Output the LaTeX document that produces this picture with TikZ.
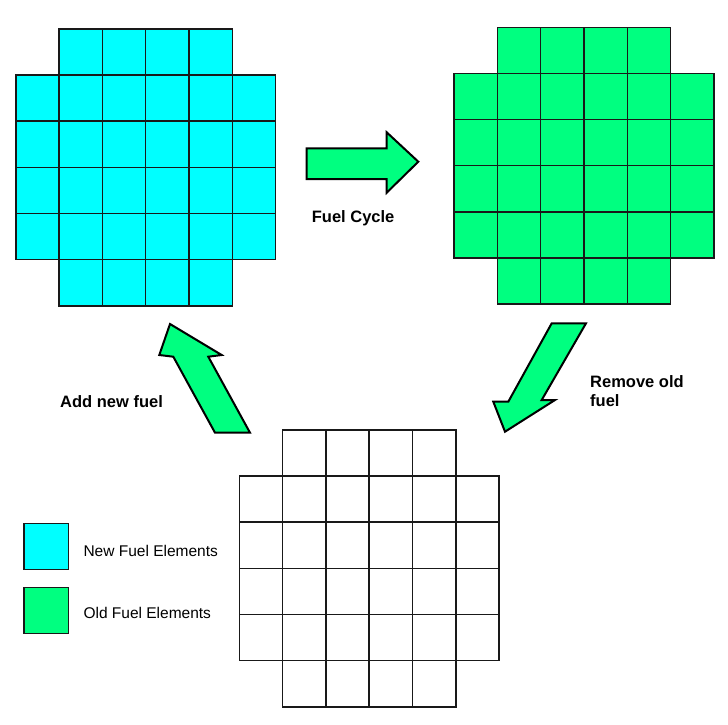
\documentclass[tikz,border=0pt]{standalone}
\usepackage{fontspec}
\setmainfont{Liberation Sans}
\definecolor{newfuel}{RGB}{0,255,255}
\definecolor{oldfuel}{RGB}{0,255,128}
\newcommand\fuelgrid[3]{%
  \foreach \r/\a/\b in {0/1/4,1/0/5,2/0/5,3/0/5,4/0/5,5/1/4}{
    \foreach \c in {\a,...,\b}{
      \draw[cell,fill=#3] ({#1+\c*43.33},{#2+\r*46.12}) rectangle +(43.33,46.12);
    }
  }%
}
\tikzset{
  cell/.style={draw=black!90,line width=1.6pt},
  bigarrow/.style={draw=black,fill=oldfuel,line width=2pt,line join=miter},
  boldlabel/.style={font=\fontsize{16.5}{19.5}\selectfont\bfseries,inner sep=0pt,align=left},
  legendlabel/.style={font=\fontsize{15.5}{18}\selectfont,inner sep=0pt},
  legendbox/.style={draw=black!90,line width=1.6pt}
}
\begin{document}
\begin{tikzpicture}[x=1pt,y=-1pt]
\useasboundingbox (0,0) rectangle (728,724);
% grids
\fuelgrid{15.7}{29}{newfuel}
\fuelgrid{454}{27.3}{oldfuel}
\fuelgrid{239.3}{430}{white}
% arrows
\draw[bigarrow] (306.7,148.3) -- (386.7,148.3) -- (386.7,132.3) -- (418.3,161.7)
  -- (386.7,192.7) -- (386.7,179) -- (306.7,179) -- cycle;
\draw[bigarrow] (170,324) -- (159.3,355) -- (173.3,356.7) -- (215,432.7)
  -- (250,432.7) -- (208.3,356.7) -- (221.7,355) -- cycle;
\draw[bigarrow] (551.7,323.3) -- (586,323.3) -- (541.7,400) -- (555,400)
  -- (505,431.7) -- (493.3,401.7) -- (508.3,401.7) -- cycle;
% labels
\node[boldlabel,anchor=base west] (cycle) at (311.7,222) {Fuel Cycle};
\node[boldlabel,anchor=base west] (add) at (60,407.3) {Add new fuel};
\node[boldlabel,anchor=base west] (remove) at (590,406.7) {Remove old\\fuel};
% legend
\draw[legendbox,fill=newfuel] (24,523.3) rectangle (68.3,569.3);
\draw[legendbox,fill=oldfuel] (24,587.3) rectangle (68.3,633.3);
\node[legendlabel,anchor=base west] (newlab) at (83.3,556.7) {New Fuel Elements};
\node[legendlabel,anchor=base west] (oldlab) at (83.3,618.3) {Old Fuel Elements};
\end{tikzpicture}
\end{document}
